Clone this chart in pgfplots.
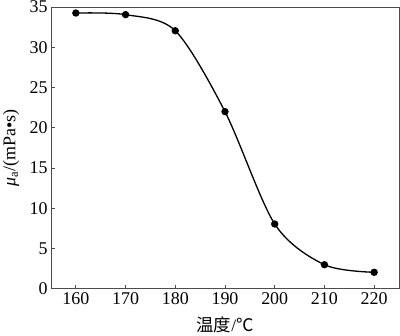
\documentclass[border=0pt]{standalone}
\usepackage{fontspec}
\setmainfont{Liberation Serif}
\newfontfamily\cjk{Noto Sans CJK SC}
\usepackage{pgfplots}
\pgfplotsset{compat=1.18}
\begin{document}
\begin{tikzpicture}
\path[use as bounding box] (0,0) rectangle (400bp,336bp);
\begin{axis}[
  at={(51bp,47.3bp)}, anchor=south west,
  scale only axis, width=348bp, height=281.7bp,
  xmin=155, xmax=225, ymin=0, ymax=35,
  xtick={160,170,...,220}, ytick={0,5,...,35},
  xtick pos=bottom, ytick pos=left,
  tick align=inside,
  major tick length=4bp,
  axis line style={black!70, line width=0.9bp},
  every tick/.style={black!70, line width=0.8bp},
  /pgf/number format/assume math mode=true,
  tick label style={font=\fontsize{18}{21}\selectfont},
  xlabel={{\cjk 温度}/{\cjk ℃}},
  ylabel={\textit{μ}\textsubscript{a}/(mPa•s)},
  xlabel style={at={(axis description cs:0.5,-0.129)}, anchor=center, font=\fontsize{17.5}{21}\selectfont},
  ylabel style={at={(axis description cs:-0.115,0.5)}, anchor=center, font=\fontsize{18}{21}\selectfont},
]
\addplot[black, line width=1.3bp, smooth, mark=*, mark size=3bp, mark options={fill=black}]
coordinates {(160,34.25) (170,34.05) (180,32.05) (190,22) (200,8.04) (210,2.98) (220,2.04)};
\end{axis}
\end{tikzpicture}
\end{document}
